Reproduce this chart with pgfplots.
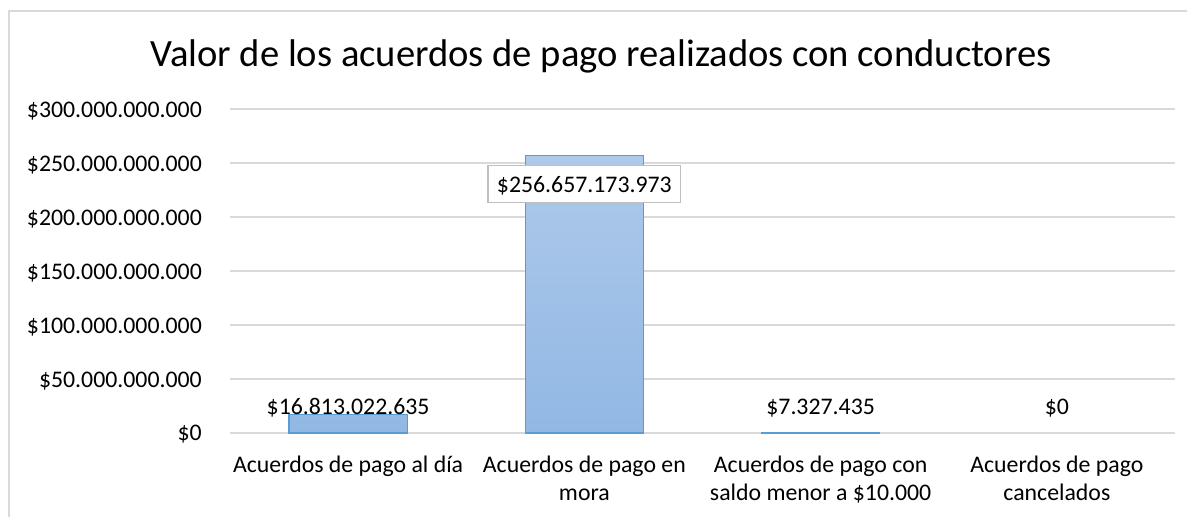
\documentclass[border=0pt]{standalone}
\usepackage{pgfplots}
\pgfplotsset{compat=1.18}
\usepackage{fontspec}
\setmainfont{Carlito}
\definecolor{gridc}{RGB}{217,217,217}
\definecolor{framec}{RGB}{217,217,217}
\definecolor{bartop}{RGB}{174,201,234}
\definecolor{barbot}{RGB}{145,184,228}
\definecolor{baredge}{RGB}{91,155,213}
\definecolor{boxc}{RGB}{191,191,191}
\newcommand{\tl}{\rule{0pt}{20pt}}
\begin{document}
\begin{tikzpicture}
\path[use as bounding box] (0,0) rectangle (1187pt,517pt);
\draw[framec, line width=1.3pt] (9pt,0) -- (9pt,506pt) -- (1187pt,506pt);
\node[anchor=base, font=\fontsize{38.6}{44}\selectfont, inner sep=0pt] at (601pt,450pt) {Valor de los acuerdos de pago realizados con conductores};
\begin{axis}[
  at={(230pt,84pt)}, anchor=south west,
  scale only axis, width=945pt, height=324pt,
  xmin=-0.5, xmax=3.5, ymin=0, ymax=300e9,
  ybar, bar width=0.5,
  axis line style={draw=none},
  major tick length=0pt,
  scaled y ticks=false,
  ymajorgrids, grid style={gridc, line width=1.3pt},
  ytick={0,50e9,100e9,150e9,200e9,250e9,300e9},
  yticklabels={\$0,\$50.000.000.000,\$100.000.000.000,\$150.000.000.000,\$200.000.000.000,\$250.000.000.000,\$300.000.000.000},
  yticklabel style={anchor=base east, inner sep=0pt, xshift=-28pt, yshift=-8pt, font=\fontsize{23.8}{28}\selectfont},
  xtick={0,1,2,3},
  xticklabels={{\tl Acuerdos de pago al día},{\tl Acuerdos de pago en\\mora},{\tl Acuerdos de pago con\\saldo menor a \$10.000},{\tl Acuerdos de pago\\cancelados}},
  xticklabel style={anchor=north, align=center, inner sep=0pt, yshift=-19pt, font=\fontsize{23.8}{28}\selectfont},
  clip=false,
]
\addplot[bar shift=0pt, draw=baredge, line width=1.3pt, top color=bartop, bottom color=barbot]
  coordinates {(0,16.813022635e9) (1,256.657173973e9) (2,7.327435e6)};
\addplot[bar shift=0pt, draw=none, fill=none] coordinates {(3,0)};
\node[anchor=base, inner sep=0pt, yshift=18pt, font=\fontsize{23.8}{28}\selectfont] at (axis cs:0,0) {\$16.813.022.635};
\node[anchor=base, inner sep=0pt, yshift=18pt, font=\fontsize{23.8}{28}\selectfont] at (axis cs:2,0) {\$7.327.435};
\node[anchor=base, inner sep=0pt, yshift=18pt, font=\fontsize{23.8}{28}\selectfont] at (axis cs:3,0) {\$0};
\node[anchor=base, draw=boxc, line width=1.3pt, fill=white, inner xsep=9pt, inner ysep=10pt, text height=16.5pt, text depth=0pt, yshift=-36.5pt, font=\fontsize{23.8}{28}\selectfont] at (axis cs:1,256.657173973e9) {\$256.657.173.973};
\end{axis}
\end{tikzpicture}
\end{document}
